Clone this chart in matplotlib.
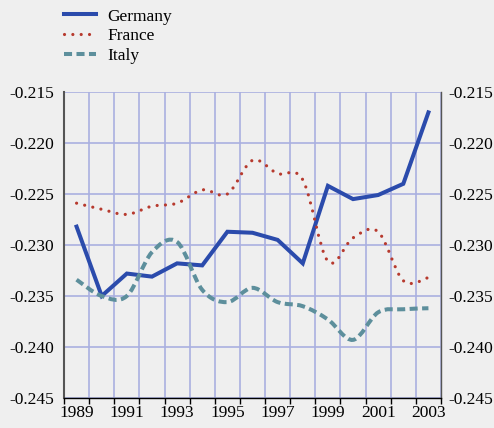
import numpy as np
import matplotlib as mpl
mpl.use('Agg')
import matplotlib.pyplot as plt
from matplotlib.path import Path
from matplotlib.patches import PathPatch
from matplotlib.lines import Line2D

years = list(range(1989, 2004))
germany = [-0.2282, -0.2350, -0.2328, -0.2331, -0.2318, -0.2320, -0.2287, -0.2288,
           -0.2295, -0.2318, -0.2242, -0.2255, -0.2251, -0.2240, -0.2170]
france = [-0.2259, -0.2265, -0.2270, -0.2262, -0.2259, -0.2246, -0.2250, -0.2217,
          -0.2230, -0.2236, -0.2316, -0.2293, -0.2287, -0.2335, -0.2332]
italy = [-0.2334, -0.2350, -0.2350, -0.2307, -0.2297, -0.2344, -0.2356, -0.2342,
         -0.2356, -0.2360, -0.2373, -0.2393, -0.2366, -0.2363, -0.2362]
yticks = [-0.215, -0.220, -0.225, -0.230, -0.235, -0.240, -0.245]
year_labels = [str(y) for y in years[::2]]

bg = '#efefef'
gridc = '#aab0e0'
c_ger = '#2b4bac'
c_fra = '#b73a2e'
c_ita = '#5d8f9c'


def smooth_path(xs, ys):
    # cubic bezier segments through every point (spreadsheet-style smoothed line)
    p = np.column_stack([xs, ys]).astype(float)
    n = len(p)
    verts = [p[0]]
    codes = [Path.MOVETO]
    for i in range(n - 1):
        p0 = p[max(i - 1, 0)]
        p1 = p[i]
        p2 = p[i + 1]
        p3 = p[min(i + 2, n - 1)]
        c1 = p1 + (p2 - p0) / 6.0
        c2 = p2 - (p3 - p1) / 6.0
        verts += [c1, c2, p2]
        codes += [Path.CURVE4] * 3
    return Path(verts, codes)


mpl.rc('font', **{'family': 'serif', 'serif': ['Liberation Serif'], 'size': 12.5})

fig = plt.figure(figsize=(4.94, 4.28), dpi=100, facecolor=bg)
ax = fig.add_axes([64/494, 1-398/428, 377/494, 306/428], facecolor=bg)

ax.plot(years, germany, color=c_ger, lw=2.9, solid_joinstyle='miter', zorder=3)

fra_style = dict(color=c_fra, lw=2.3, linestyle=(0, (0.01, 2.6)))
ita_style = dict(color=c_ita, lw=2.9, linestyle=(0, (2.0, 1.1)))

pf = PathPatch(smooth_path(years, france), fill=False, zorder=3, capstyle='round', **fra_style)
ax.add_patch(pf)
pi = PathPatch(smooth_path(years, italy), fill=False, zorder=3, capstyle='butt', **ita_style)
ax.add_patch(pi)

ax.set_xlim(1988.5, 2003.5)
ax.set_ylim(-0.245, -0.215)
ax.set_yticks(yticks)
ax.yaxis.set_major_formatter(mpl.ticker.FormatStrFormatter('%.3f'))

# category boundaries carry the ticks and grid, labels sit at the centres
ax.set_xticks(np.arange(1988.5, 2004, 1))
ax.set_xticklabels([])
ax.set_xticks(years[::2], minor=True)
ax.set_xticklabels(year_labels, minor=True)
ax.tick_params(axis='x', which='major', direction='out', length=4, width=1, color='black')
ax.tick_params(axis='x', which='minor', length=0, pad=5)
ax.tick_params(axis='y', length=0, pad=7)

ax.grid(True, which='major', color=gridc, lw=1.2, zorder=0)
ax.set_axisbelow(True)

ax.spines['top'].set_visible(False)
ax.spines['left'].set_color('#555555')
ax.spines['left'].set_linewidth(1.5)
ax.spines['right'].set_color('#555555')
ax.spines['right'].set_linewidth(1.0)
ax.spines['bottom'].set_color('black')
ax.spines['bottom'].set_linewidth(1.0)

ax2 = ax.twinx()
ax2.set_ylim(ax.get_ylim())
ax2.set_yticks(yticks)
ax2.yaxis.set_major_formatter(mpl.ticker.FormatStrFormatter('%.3f'))
ax2.tick_params(axis='y', length=0, pad=5)
for s in ['top', 'left', 'bottom', 'right']:
    ax2.spines[s].set_visible(False)

handles = [Line2D([], [], color=c_ger, lw=2.9),
           Line2D([], [], dash_capstyle='round', **fra_style),
           Line2D([], [], **ita_style)]
fig.legend(handles, ['Germany', 'France', 'Italy'], loc='upper left',
           bbox_to_anchor=(48/494, 1.017), frameon=False,
           handlelength=1.85, handletextpad=0.65, labelspacing=0.22)

fig.savefig('out.png', dpi=100, facecolor=bg)
